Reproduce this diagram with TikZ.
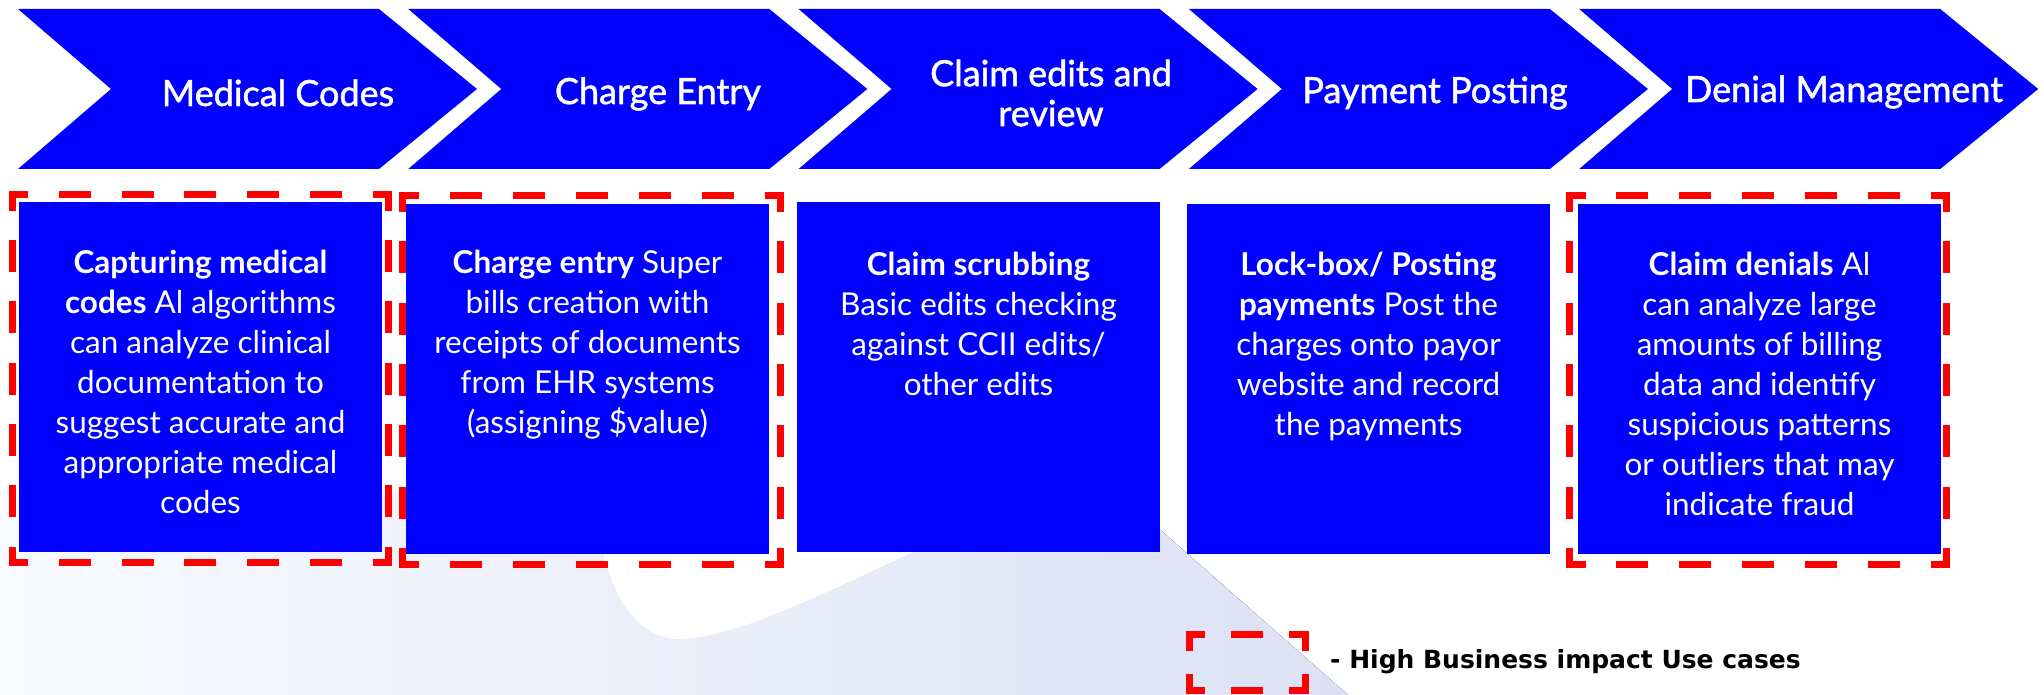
\documentclass[tikz,border=0pt]{standalone}
\usepackage{fontspec}
\setmainfont{Lato}
\newfontfamily\headfont[RawFeature={embolden=1.4}]{Lato}
\newfontfamily\legendfont{DejaVu Sans}
\definecolor{cblue}{RGB}{0,0,255}
\definecolor{cred}{RGB}{255,0,0}
\definecolor{bgA}{RGB}{250,251,254}
\definecolor{bgB}{RGB}{220,225,245}
\newcommand\dashedge[4]{%
  \pgfmathsetmacro\dlen{veclen(#3-#1,#4-#2)}%
  \pgfmathsetmacro\dnum{max(1,round(\dlen/62))}%
  \pgfmathsetmacro\doff{\dlen/\dnum-25}%
  \draw[hidash, dash pattern=on 25pt off \doff pt, dash phase=12.5pt] (#1,#2) -- (#3,#4);%
}
\newcommand\hibox[4]{%
  \dashedge{#1}{#2}{#3}{#2}\dashedge{#3}{#2}{#3}{#4}%
  \dashedge{#3}{#4}{#1}{#4}\dashedge{#1}{#4}{#1}{#2}}
\newcommand\chev[1]{%
  \fill[cblue] (#1,9) -- ++(361,0) -- ++(98,80) -- ++(-98,80) -- ++(-361,0) -- ++(93,-80) -- cycle;}
\begin{document}
\begin{tikzpicture}[x=1pt,y=-1pt,
  hidash/.style={draw=cred, line width=7pt, line cap=rect},
  bluebox/.style={fill=cblue, draw=none, inner sep=0pt, minimum width=363pt, minimum height=350pt, anchor=north west},
  headtext/.style={text=white, font=\headfont\fontsize{36}{40}\selectfont, align=center, inner sep=0pt},
  bodytext/.style={text=white, font=\fontsize{31.5}{40}\selectfont, align=center, inner sep=0pt, anchor=north},
  legtext/.style={text=black, font=\legendfont\bfseries\fontsize{25}{30}\selectfont, inner sep=0pt, anchor=base west}]
\useasboundingbox (0,0) rectangle (2044,695);
% background
\fill[left color=bgA, right color=bgB] (0,490) -- (1115,490) -- (1348,695) -- (0,695) -- cycle;
\fill[white] (596,480) -- (600,540) .. controls (612,600) and (640,640) .. (681,639)
  .. controls (735,637) and (810,600) .. (913,552) -- (1010,485) -- (1010,480) -- cycle;
% chevrons
\chev{18}\chev{408.3}\chev{798.6}\chev{1188.9}\chev{1579.2}
\node[headtext, anchor=base] (h1) at (278,106) {Medical Codes};
\node[headtext, anchor=base] (h2) at (658,104) {Charge Entry};
\node[headtext, anchor=center] (h3) at (1051,93) {Claim edits and\\review};
\node[headtext, anchor=base] (h4) at (1435,103) {Payment Posting};
\node[headtext, anchor=base] (h5) at (1844,102) {Denial Management};
% boxes
\node[bluebox] (b1) at (19,202) {};
\node[bluebox] (b2) at (406,204) {};
\node[bluebox] (b3) at (797,202) {};
\node[bluebox] (b4) at (1187,204) {};
\node[bluebox] (b5) at (1578,204) {};
% highlight frames
\hibox{12}{194.5}{388.5}{562.5}
\hibox{402.5}{196}{780.5}{564}
\hibox{1569.5}{196}{1946.5}{564}
% texts
\node[bodytext] (t1) at (200.5,250) {\textbf{Capturing medical}\\\textbf{codes} Al algorithms\\can analyze clinical\\documentation to\\suggest accurate and\\appropriate medical\\codes};
\node[bodytext] (t2) at (587.5,250) {\textbf{Charge entry} Super\\bills creation with\\receipts of documents\\from EHR systems\\(assigning \$value)};
\node[bodytext] (t3) at (978.5,252) {\textbf{Claim scrubbing}\\Basic edits checking\\against CCII edits/\\other edits};
\node[bodytext] (t4) at (1368.5,252) {\textbf{Lock-box/ Posting}\\\textbf{payments} Post the\\charges onto payor\\website and record\\the payments};
\node[bodytext] (t5) at (1759.5,252) {\textbf{Claim denials} Al\\can analyze large\\amounts of billing\\data and identify\\suspicious patterns\\or outliers that may\\indicate fraud};
% legend
\hibox{1189}{634.5}{1305}{690}
\node[legtext] (leg) at (1330,668) {- High Business impact Use cases};
\end{tikzpicture}
\end{document}
